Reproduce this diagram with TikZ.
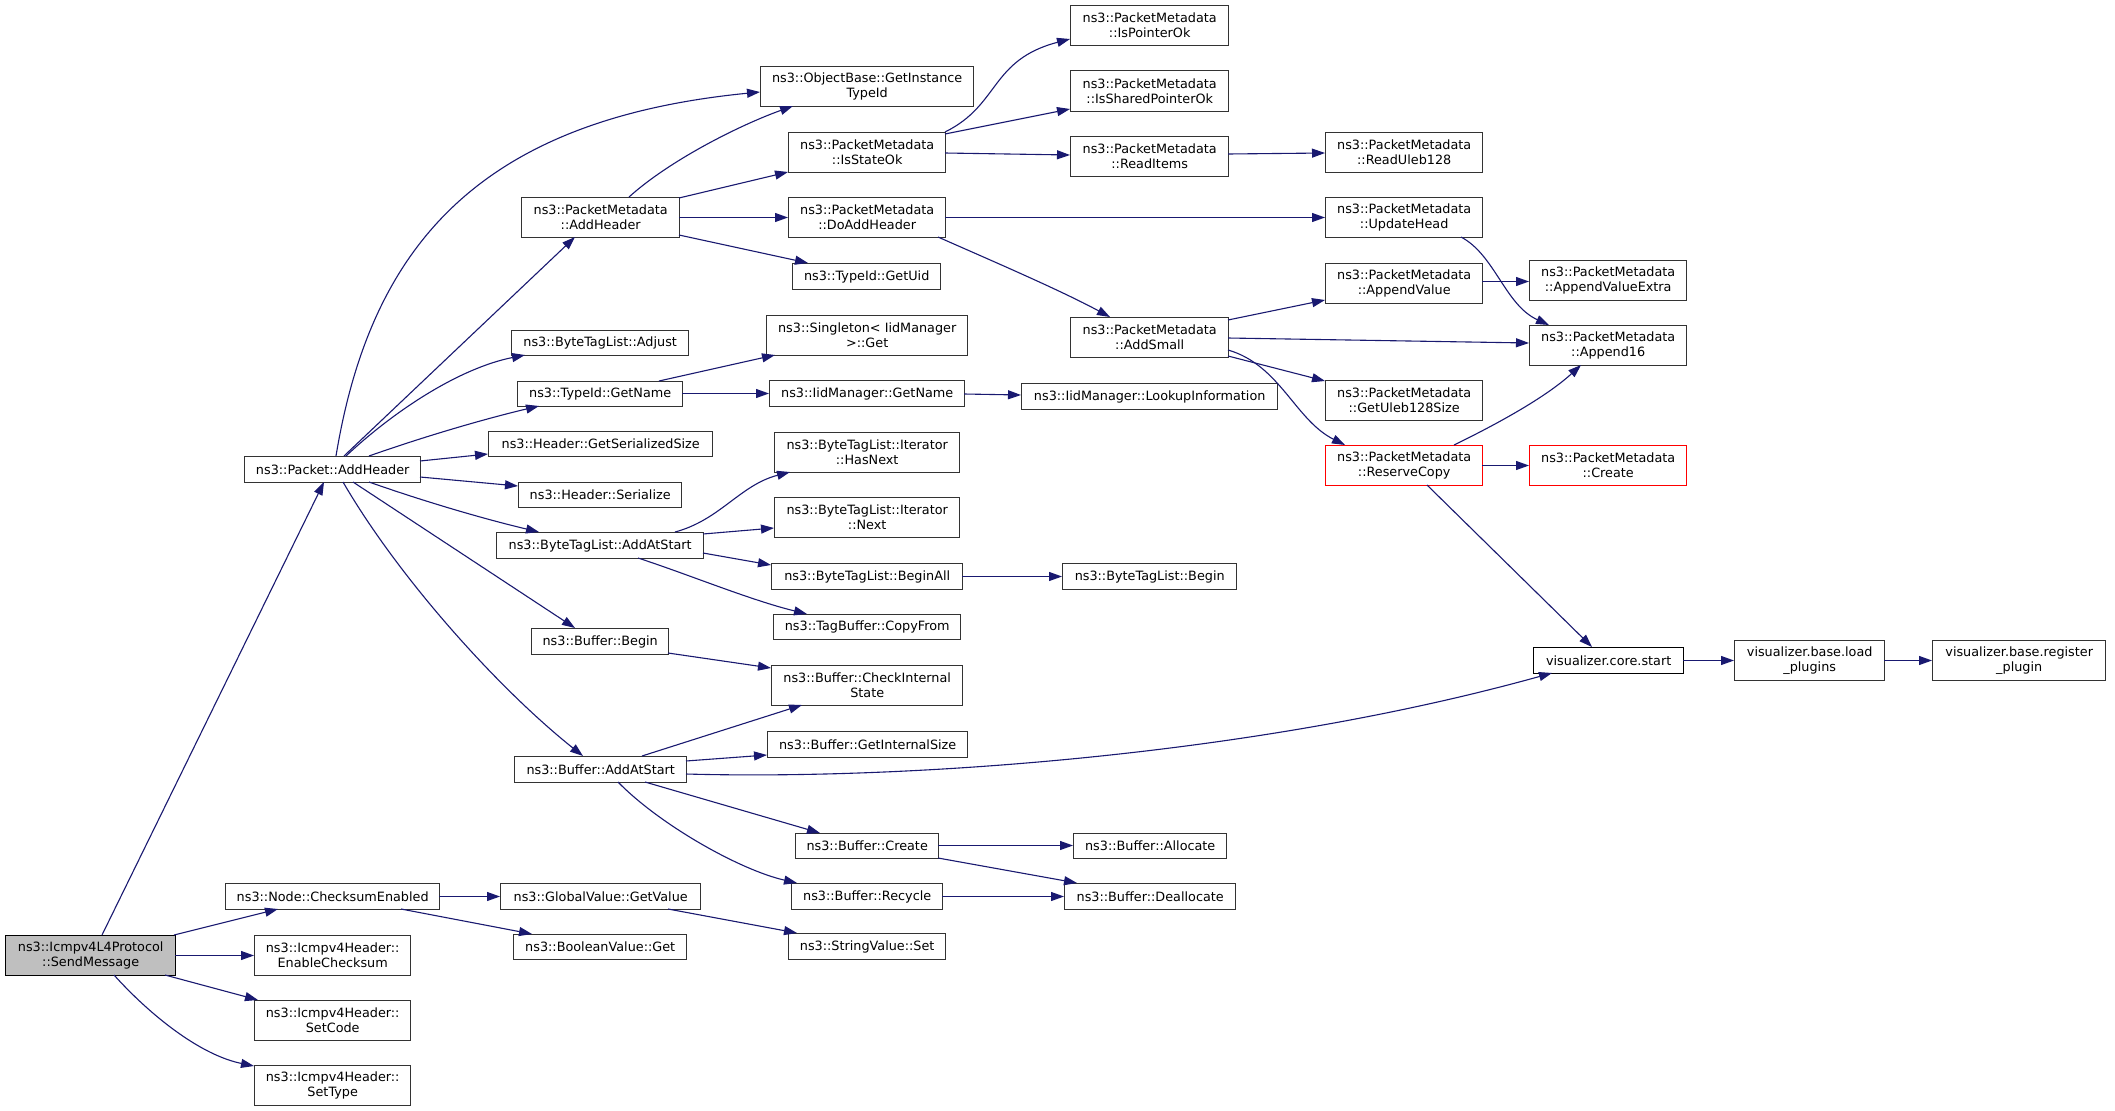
\documentclass[tikz,border=0pt]{standalone}
\usepackage{fontspec}
\setmainfont{DejaVu Sans}
\usetikzlibrary{arrows.meta}
\definecolor{edgec}{HTML}{191970}
\definecolor{boxc}{HTML}{333333}
\definecolor{rootfill}{HTML}{BFBFBF}
\begin{document}
\begin{tikzpicture}[x=1pt,y=-1pt,
  box/.style={draw=boxc, line width=1.4pt, fill=white, inner sep=0pt, anchor=north west, align=center, font=\fontsize{12.8}{15}\selectfont},
  redbox/.style={box, draw=red},
  rootbox/.style={box, draw=black, fill=rootfill},
  conn/.style={draw=edgec, line width=1.1pt, -{Triangle[length=13pt,width=9pt]}}]
\useasboundingbox (0,0) rectangle (2115,1111);
\fill[white] (0,0) rectangle (2115,1111);
% nodes
\node[rootbox, minimum width=170pt, minimum height=40pt] (sm) at (5,935) {ns3::Icmpv4L4Protocol\\::SendMessage};
\node[box, minimum width=176pt, minimum height=26pt] (pah) at (244,456) {ns3::Packet::AddHeader};
\node[box, minimum width=214pt, minimum height=26pt] (nce) at (225,883) {ns3::Node::ChecksumEnabled};
\node[box, minimum width=156pt, minimum height=40pt] (iec) at (254,935) {ns3::Icmpv4Header::\\EnableChecksum};
\node[box, minimum width=156pt, minimum height=40pt] (isc) at (254,1000) {ns3::Icmpv4Header::\\SetCode};
\node[box, minimum width=156pt, minimum height=40pt] (ist) at (254,1065) {ns3::Icmpv4Header::\\SetType};
\node[box, minimum width=200pt, minimum height=26pt] (gv) at (500,883) {ns3::GlobalValue::GetValue};
\node[box, minimum width=173pt, minimum height=25pt] (bv) at (513,934) {ns3::BooleanValue::Get};
\node[box, minimum width=157pt, minimum height=26pt] (sv) at (788,933) {ns3::StringValue::Set};
\node[box, minimum width=158pt, minimum height=40pt] (pmah) at (521,197) {ns3::PacketMetadata\\::AddHeader};
\node[box, minimum width=213pt, minimum height=40pt] (obj) at (760,66) {ns3::ObjectBase::GetInstance\\TypeId};
\node[box, minimum width=177pt, minimum height=25pt] (adj) at (511,330) {ns3::ByteTagList::Adjust};
\node[box, minimum width=165pt, minimum height=25pt] (tgn) at (517,381) {ns3::TypeId::GetName};
\node[box, minimum width=224pt, minimum height=25pt] (gss) at (488,431) {ns3::Header::GetSerializedSize};
\node[box, minimum width=163pt, minimum height=25pt] (ser) at (518,482) {ns3::Header::Serialize};
\node[box, minimum width=207pt, minimum height=26pt] (btas) at (496,532) {ns3::ByteTagList::AddAtStart};
\node[box, minimum width=137pt, minimum height=26pt] (bb) at (531,628) {ns3::Buffer::Begin};
\node[box, minimum width=172pt, minimum height=26pt] (baas) at (514,756) {ns3::Buffer::AddAtStart};
\node[box, minimum width=157pt, minimum height=40pt] (iso) at (788,132) {ns3::PacketMetadata\\::IsStateOk};
\node[box, minimum width=157pt, minimum height=40pt] (dah) at (788,197) {ns3::PacketMetadata\\::DoAddHeader};
\node[box, minimum width=148pt, minimum height=26pt] (uid) at (792,263) {ns3::TypeId::GetUid};
\node[box, minimum width=201pt, minimum height=40pt] (sing) at (766,315) {ns3::Singleton< IidManager\\ >::Get};
\node[box, minimum width=195pt, minimum height=26pt] (igm) at (769,380) {ns3::IidManager::GetName};
\node[box, minimum width=185pt, minimum height=40pt] (hn) at (774,432) {ns3::ByteTagList::Iterator\\::HasNext};
\node[box, minimum width=185pt, minimum height=40pt] (nx) at (774,497) {ns3::ByteTagList::Iterator\\::Next};
\node[box, minimum width=191pt, minimum height=26pt] (ba) at (771,563) {ns3::ByteTagList::BeginAll};
\node[box, minimum width=187pt, minimum height=25pt] (cf) at (773,614) {ns3::TagBuffer::CopyFrom};
\node[box, minimum width=191pt, minimum height=40pt] (cis) at (771,665) {ns3::Buffer::CheckInternal\\State};
\node[box, minimum width=200pt, minimum height=26pt] (gis) at (767,731) {ns3::Buffer::GetInternalSize};
\node[box, minimum width=143pt, minimum height=25pt] (bc) at (795,833) {ns3::Buffer::Create};
\node[box, minimum width=151pt, minimum height=26pt] (br) at (791,883) {ns3::Buffer::Recycle};
\node[box, minimum width=158pt, minimum height=40pt] (ipo) at (1070,5) {ns3::PacketMetadata\\::IsPointerOk};
\node[box, minimum width=158pt, minimum height=41pt] (ispo) at (1070,70) {ns3::PacketMetadata\\::IsSharedPointerOk};
\node[box, minimum width=158pt, minimum height=40pt] (ri) at (1070,136) {ns3::PacketMetadata\\::ReadItems};
\node[box, minimum width=158pt, minimum height=40pt] (as) at (1070,317) {ns3::PacketMetadata\\::AddSmall};
\node[box, minimum width=256pt, minimum height=26pt] (lk) at (1021,383) {ns3::IidManager::LookupInformation};
\node[box, minimum width=174pt, minimum height=26pt] (btb) at (1062,563) {ns3::ByteTagList::Begin};
\node[box, minimum width=153pt, minimum height=25pt] (al) at (1073,833) {ns3::Buffer::Allocate};
\node[box, minimum width=171pt, minimum height=26pt] (de) at (1064,883) {ns3::Buffer::Deallocate};
\node[box, minimum width=157pt, minimum height=40pt] (ru) at (1325,132) {ns3::PacketMetadata\\::ReadUleb128};
\node[box, minimum width=157pt, minimum height=40pt] (uh) at (1325,197) {ns3::PacketMetadata\\::UpdateHead};
\node[box, minimum width=157pt, minimum height=40pt] (av) at (1325,263) {ns3::PacketMetadata\\::AppendValue};
\node[box, minimum width=157pt, minimum height=40pt] (gus) at (1325,380) {ns3::PacketMetadata\\::GetUleb128Size};
\node[redbox, minimum width=157pt, minimum height=40pt] (rc) at (1325,445) {ns3::PacketMetadata\\::ReserveCopy};
\node[box, minimum width=157pt, minimum height=40pt] (ave) at (1529,260) {ns3::PacketMetadata\\::AppendValueExtra};
\node[box, minimum width=157pt, minimum height=40pt] (a16) at (1529,325) {ns3::PacketMetadata\\::Append16};
\node[redbox, minimum width=157pt, minimum height=40pt] (cr) at (1529,445) {ns3::PacketMetadata\\::Create};
\node[box, draw=black, minimum width=150pt, minimum height=26pt] (vcs) at (1533,647) {visualizer.core.start};
\node[box, minimum width=150pt, minimum height=40pt] (vlp) at (1734,640) {visualizer.base.load\\\_plugins};
\node[box, minimum width=173pt, minimum height=40pt] (vrp) at (1932,640) {visualizer.base.register\\\_plugin};
% edges
\draw[conn] ([shift={(97,0)}]sm.north west) -- ([shift={(80,26)}]pah.north west);
\draw[conn] ([shift={(169,0)}]sm.north west) -- ([shift={(53,26)}]nce.north west);
\draw[conn] ([shift={(170,20.5)}]sm.north west) -- ([shift={(0,20.5)}]iec.north west);
\draw[conn] ([shift={(160,40)}]sm.north west) -- ([shift={(4,0)}]isc.north west);
\draw[conn] ([shift={(109,40)}]sm.north west) .. controls (150,1015) and (200,1055) .. ([shift={(0,1)}]ist.north west);
\draw[conn] ([shift={(214,13.5)}]nce.north west) -- ([shift={(0,13.5)}]gv.north west);
\draw[conn] ([shift={(176,26)}]nce.north west) -- ([shift={(19,0)}]bv.north west);
\draw[conn] ([shift={(168,26)}]gv.north west) -- ([shift={(9,0)}]sv.north west);
\draw[conn] ([shift={(92,0)}]pah.north west) .. controls (370,250) and (475,120) .. ([shift={(0,26)}]obj.north west);
\draw[conn] ([shift={(100,0)}]pah.north west) -- ([shift={(54,40)}]pmah.north west);
\draw[conn] ([shift={(102,0)}]pah.north west) .. controls (395,410) and (460,368) .. ([shift={(14,25)}]adj.north west);
\draw[conn] ([shift={(125,0)}]pah.north west) .. controls (420,438) and (480,420) .. ([shift={(22,25)}]tgn.north west);
\draw[conn] ([shift={(176,5)}]pah.north west) -- ([shift={(0,23)}]gss.north west);
\draw[conn] ([shift={(176,21)}]pah.north west) -- ([shift={(0,4)}]ser.north west);
\draw[conn] ([shift={(125,26)}]pah.north west) .. controls (420,500) and (480,518) .. ([shift={(43,0)}]btas.north west);
\draw[conn] ([shift={(109,26)}]pah.north west) -- ([shift={(44,0)}]bb.north west);
\draw[conn] ([shift={(99,26)}]pah.north west) .. controls (400,580) and (500,690) .. ([shift={(69,0)}]baas.north west);
\draw[conn] ([shift={(108,0)}]pmah.north west) .. controls (670,160) and (740,125) .. ([shift={(33,40)}]obj.north west);
\draw[conn] ([shift={(158,1)}]pmah.north west) -- ([shift={(0,40)}]iso.north west);
\draw[conn] ([shift={(158,20.5)}]pmah.north west) -- ([shift={(0,20.5)}]dah.north west);
\draw[conn] ([shift={(158,38)}]pmah.north west) -- ([shift={(16,0)}]uid.north west);
\draw[conn] ([shift={(157,0)}]iso.north west) .. controls (1000,105) and (990,60) .. ([shift={(0,34)}]ipo.north west);
\draw[conn] ([shift={(157,2)}]iso.north west) -- ([shift={(0,39)}]ispo.north west);
\draw[conn] ([shift={(157,21)}]iso.north west) -- ([shift={(0,19)}]ri.north west);
\draw[conn] ([shift={(158,18)}]ri.north west) -- ([shift={(0,21)}]ru.north west);
\draw[conn] ([shift={(157,20.5)}]dah.north west) -- ([shift={(0,20.5)}]uh.north west);
\draw[conn] ([shift={(150,40)}]dah.north west) .. controls (990,260) and (1060,290) .. ([shift={(40,0)}]as.north west);
\draw[conn] ([shift={(136,40)}]uh.north west) .. controls (1495,255) and (1505,305) .. ([shift={(20,0)}]a16.north west);
\draw[conn] ([shift={(158,3)}]as.north west) -- ([shift={(0,37)}]av.north west);
\draw[conn] ([shift={(158,21)}]as.north west) -- ([shift={(0,18)}]a16.north west);
\draw[conn] ([shift={(158,39)}]as.north west) -- ([shift={(0,1)}]gus.north west);
\draw[conn] ([shift={(158,33)}]as.north west) .. controls (1280,365) and (1295,420) .. ([shift={(20,0)}]rc.north west);
\draw[conn] ([shift={(157,18.5)}]av.north west) -- ([shift={(0,21.5)}]ave.north west);
\draw[conn] ([shift={(129,0)}]rc.north west) .. controls (1495,425) and (1545,398) .. ([shift={(52,40)}]a16.north west);
\draw[conn] ([shift={(157,20.5)}]rc.north west) -- ([shift={(0,20.5)}]cr.north west);
\draw[conn] ([shift={(102,40)}]rc.north west) -- ([shift={(59,0)}]vcs.north west);
\draw[conn] ([shift={(142,0)}]tgn.north west) -- ([shift={(9,40)}]sing.north west);
\draw[conn] ([shift={(165,12.5)}]tgn.north west) -- ([shift={(0,13.5)}]igm.north west);
\draw[conn] ([shift={(195,14)}]igm.north west) -- ([shift={(0,12)}]lk.north west);
\draw[conn] ([shift={(179,0)}]btas.north west) .. controls (720,520) and (740,485) .. ([shift={(16,40)}]hn.north west);
\draw[conn] ([shift={(207,2)}]btas.north west) -- ([shift={(0,31)}]nx.north west);
\draw[conn] ([shift={(207,21)}]btas.north west) -- ([shift={(0,2)}]ba.north west);
\draw[conn] ([shift={(142,26)}]btas.north west) .. controls (690,575) and (750,600) .. ([shift={(34,0)}]cf.north west);
\draw[conn] ([shift={(137,25)}]bb.north west) -- ([shift={(0,3)}]cis.north west);
\draw[conn] ([shift={(128,0)}]baas.north west) -- ([shift={(31,40)}]cis.north west);
\draw[conn] ([shift={(172,5)}]baas.north west) -- ([shift={(0,24)}]gis.north west);
\draw[conn] ([shift={(172,18)}]baas.north west) .. controls (900,780) and (1250,757) .. ([shift={(19,26)}]vcs.north west);
\draw[conn] ([shift={(131,26)}]baas.north west) -- ([shift={(25,0)}]bc.north west);
\draw[conn] ([shift={(104,26)}]baas.north west) .. controls (660,825) and (740,870) .. ([shift={(6,0)}]br.north west);
\draw[conn] ([shift={(191,13.5)}]ba.north west) -- ([shift={(0,13.5)}]btb.north west);
\draw[conn] ([shift={(143,12.5)}]bc.north west) -- ([shift={(0,12.5)}]al.north west);
\draw[conn] ([shift={(143,25)}]bc.north west) -- ([shift={(13,0)}]de.north west);
\draw[conn] ([shift={(151,13.5)}]br.north west) -- ([shift={(0,13.5)}]de.north west);
\draw[conn] ([shift={(150,13.5)}]vcs.north west) -- ([shift={(0,20.5)}]vlp.north west);
\draw[conn] ([shift={(150,20.5)}]vlp.north west) -- ([shift={(0,20.5)}]vrp.north west);
\end{tikzpicture}
\end{document}
